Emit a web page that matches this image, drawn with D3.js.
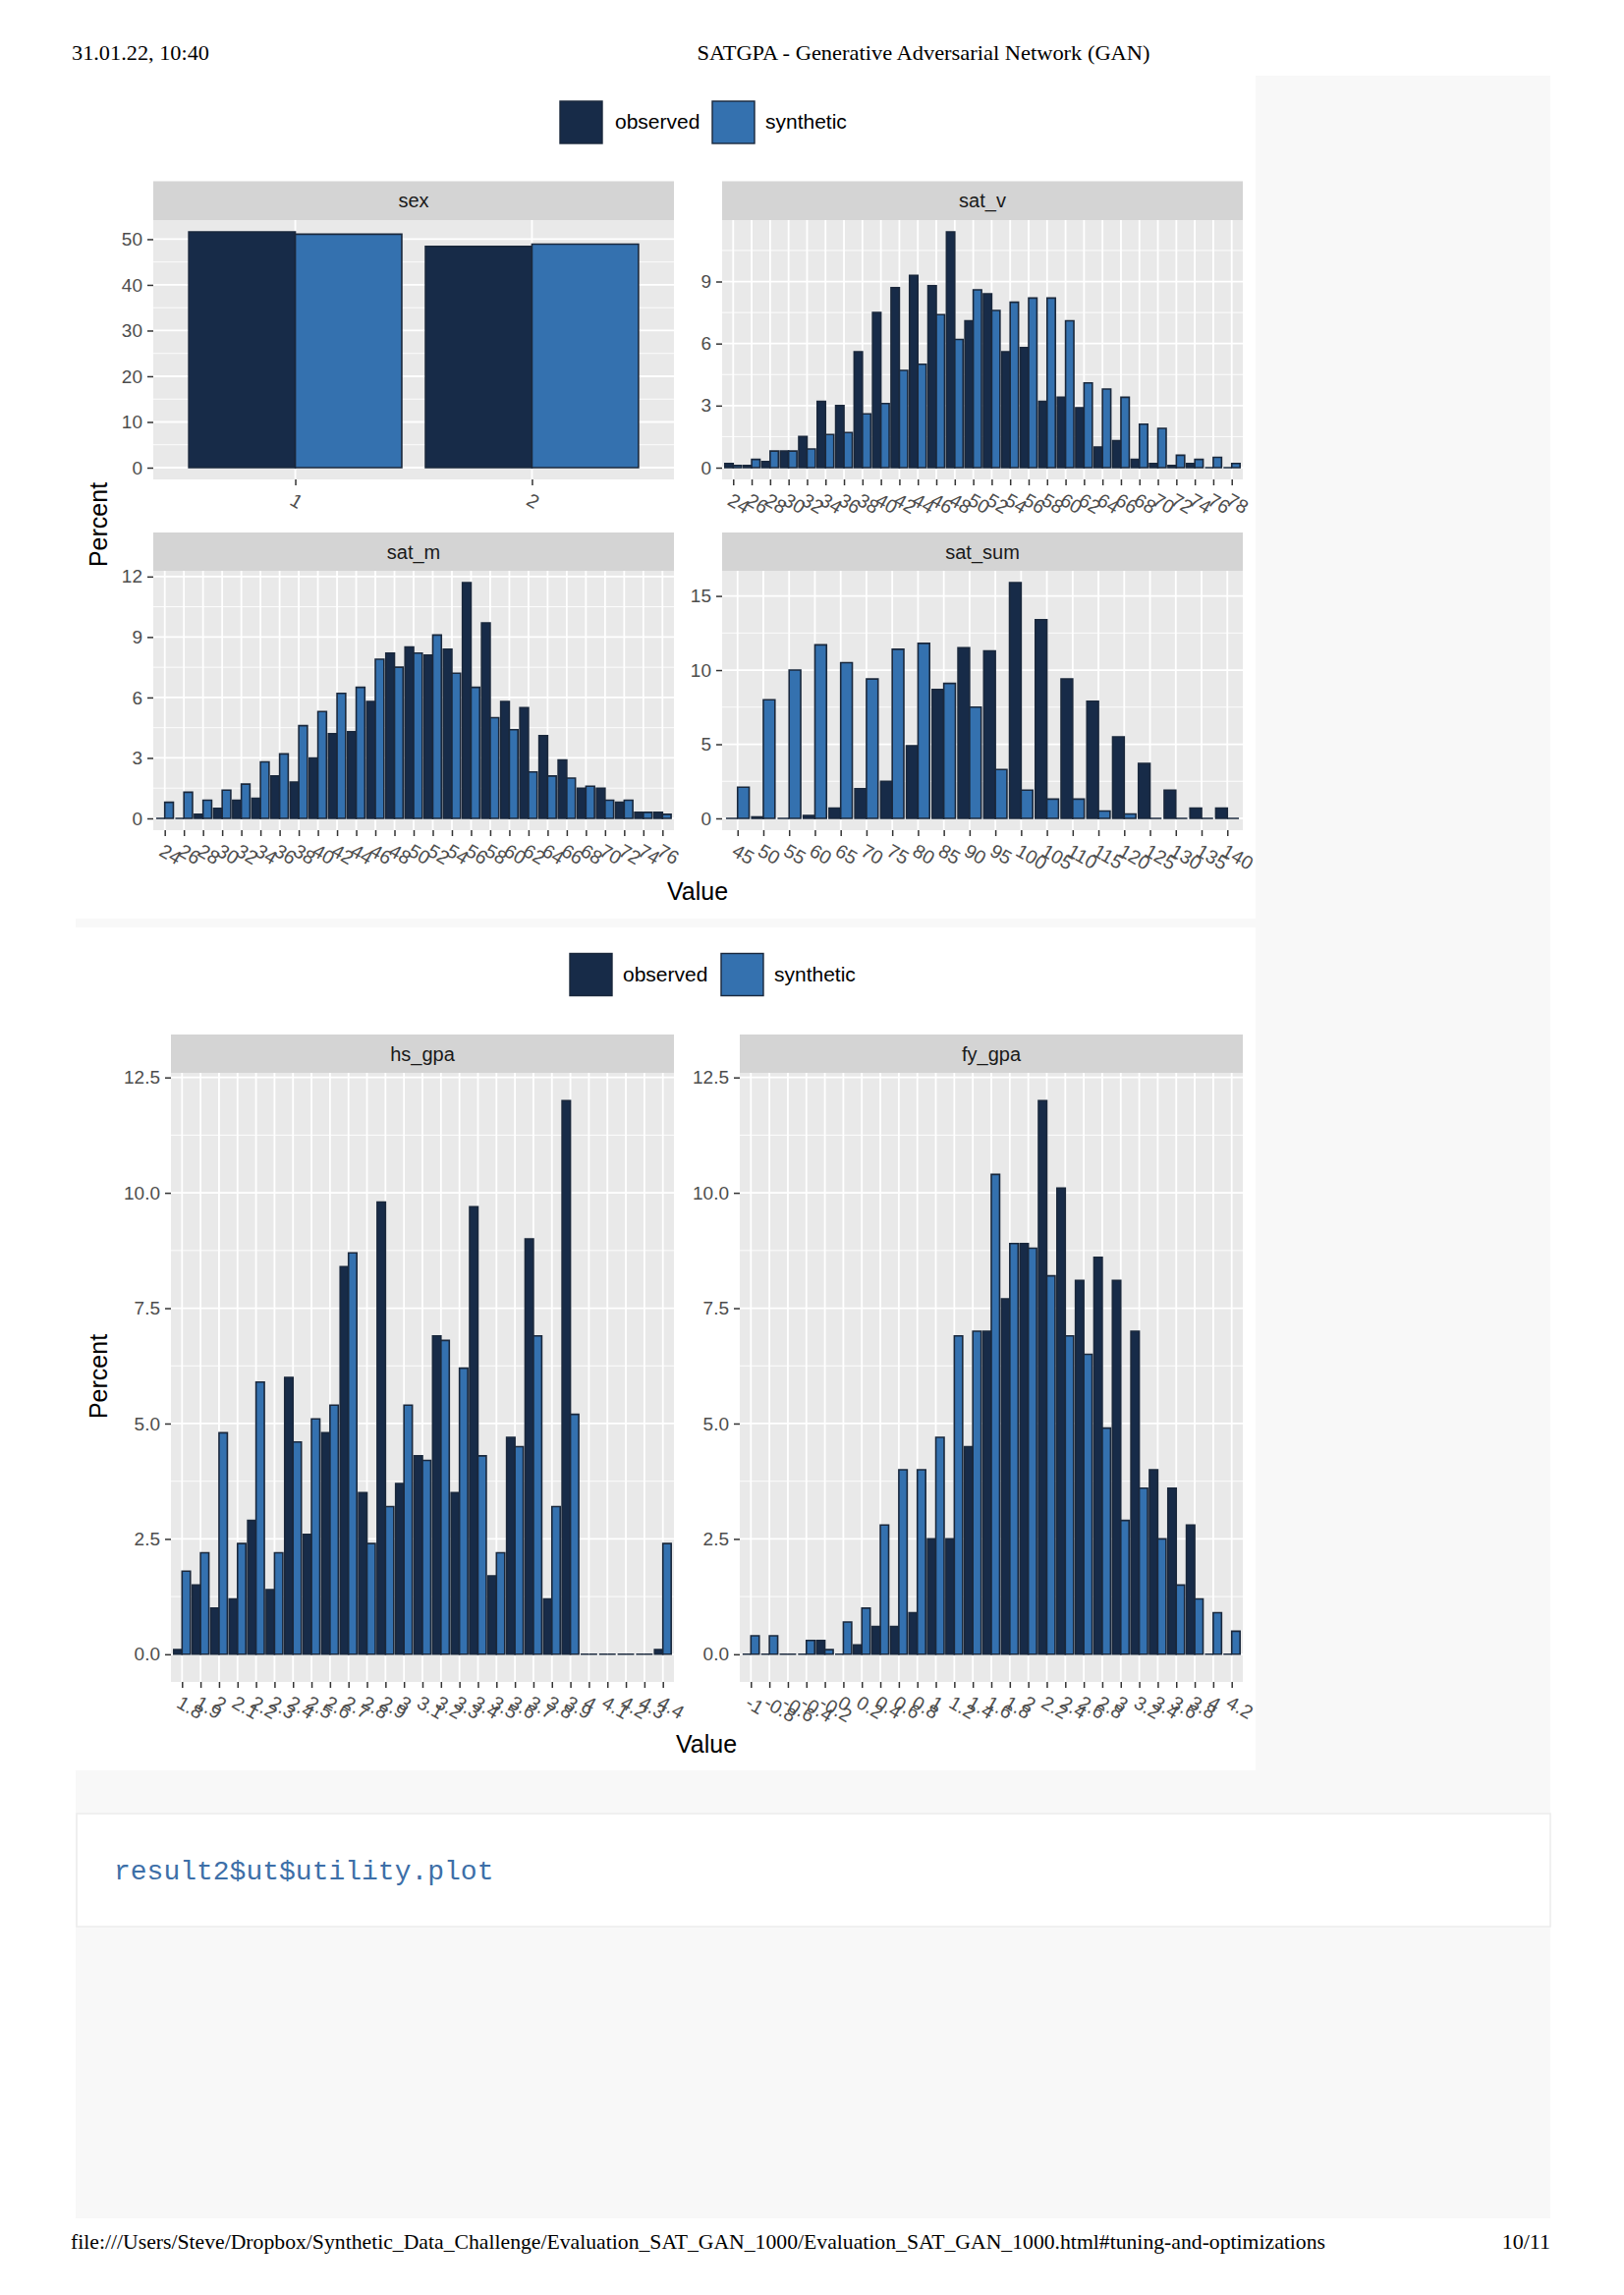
<!DOCTYPE html>
<html><head><meta charset="utf-8">
<script src="https://cdn.jsdelivr.net/npm/d3@7"></script>
<style>body{margin:0;background:#fff;} svg{display:block;}</style>
</head><body>
<svg id="c" width="1653" height="2336"></svg>
<script>
// ---------------- data ----------------
const seriesNames = ["observed", "synthetic"];

const sexCategories = ["1", "2"];
const sexObserved  = [51.6, 48.4];
const sexSynthetic = [51.1, 48.9];
const sexTicks = [0, 10, 20, 30, 40, 50];

const satVCategories = ["24","26","28","30","32","34","36","38","40","42","44","46","48","50","52","54","56","58","60","62","64","66","68","70","72","74","76","78"];
const satVObserved  = [0.2,0.1,0.3,0.8,1.5,3.2,3.0,5.6,7.5,8.7,9.3,8.8,11.4,7.1,8.4,5.6,5.8,3.2,3.4,2.9,1.0,1.3,0.4,0.2,0.1,0.2,0,0];
const satVSynthetic = [0.1,0.4,0.8,0.8,0.9,1.6,1.7,2.6,3.1,4.7,5.0,7.4,6.2,8.6,7.6,8.0,8.2,8.2,7.1,4.1,3.8,3.4,2.1,1.9,0.6,0.4,0.5,0.2];
const satVTicks = [0, 3, 6, 9];

const satMCategories = ["24","26","28","30","32","34","36","38","40","42","44","46","48","50","52","54","56","58","60","62","64","66","68","70","72","74","76"];
const satMObserved  = [0,0,0.2,0.5,0.9,1.0,2.1,1.8,3.0,4.2,4.3,5.8,8.2,8.5,8.1,8.4,11.7,9.7,5.8,5.5,4.1,2.9,1.5,1.5,0.8,0.3,0.3];
const satMSynthetic = [0.8,1.3,0.9,1.4,1.7,2.8,3.2,4.6,5.3,6.2,6.5,7.9,7.5,8.2,9.1,7.2,6.5,5.0,4.4,2.3,2.1,2.0,1.6,0.9,0.9,0.3,0.2];
const satMTicks = [0, 3, 6, 9, 12];

const satSumCategories = ["45","50","55","60","65","70","75","80","85","90","95","100","105","110","115","120","125","130","135","140"];
const satSumObserved  = [0,0.1,0,0.2,0.7,2.0,2.5,4.9,8.7,11.5,11.3,15.9,13.4,9.4,7.9,5.5,3.7,1.9,0.7,0.7];
const satSumSynthetic = [2.1,8.0,10.0,11.7,10.5,9.4,11.4,11.8,9.1,7.5,3.3,1.9,1.3,1.3,0.5,0.3,0,0,0,0];
const satSumTicks = [0, 5, 10, 15];

const hsGpaCategories = ["1.8","1.9","2","2.1","2.2","2.3","2.4","2.5","2.6","2.7","2.8","2.9","3","3.1","3.2","3.3","3.4","3.5","3.6","3.7","3.8","3.9","4","4.1","4.2","4.3","4.4"];
const hsGpaObserved  = [0.1,1.5,1.0,1.2,2.9,1.4,6.0,2.6,4.8,8.4,3.5,9.8,3.7,4.3,6.9,3.5,9.7,1.7,4.7,9.0,1.2,12.0,0,0,0,0,0.1];
const hsGpaSynthetic = [1.8,2.2,4.8,2.4,5.9,2.2,4.6,5.1,5.4,8.7,2.4,3.2,5.4,4.2,6.8,6.2,4.3,2.2,4.5,6.9,3.2,5.2,0,0,0,0,2.4];

const fyGpaCategories = ["-1","-0.8","-0.6","-0.4","-0.2","0","0.2","0.4","0.6","0.8","1","1.2","1.4","1.6","1.8","2","2.2","2.4","2.6","2.8","3","3.2","3.4","3.6","3.8","4","4.2"];
const fyGpaObserved  = [0,0,0,0,0.3,0,0.2,0.6,0.6,0.9,2.5,2.5,4.5,7.0,7.7,8.9,12.0,10.1,8.1,8.6,8.1,7.0,4.0,3.6,2.8,0,0];
const fyGpaSynthetic = [0.4,0.4,0,0.3,0.1,0.7,1.0,2.8,4.0,4.0,4.7,6.9,7.0,10.4,8.9,8.8,8.2,6.9,6.5,4.9,2.9,3.6,2.5,1.5,1.2,0.9,0.5];
const gpaTicks = [0, 2.5, 5, 7.5, 10, 12.5];

// ---------------- style ----------------
const FONT = "'Liberation Sans', Arial, Helvetica, sans-serif";
const SERIF = "'Liberation Serif', 'Times New Roman', serif";
const MONO = "'Liberation Mono', 'DejaVu Sans Mono', monospace";
const COL_OBS = "#172b48", COL_SYN = "#3471af", COL_EDGE = "#1a283c";

const svg = d3.select("#c");
svg.append("rect").attr("width", 1653).attr("height", 2336).attr("fill", "#fff");
svg.append("rect").attr("x", 77).attr("y", 77).attr("width", 1501).attr("height", 2181).attr("fill", "#f8f8f8");
svg.append("rect").attr("x", 77).attr("y", 77).attr("width", 1201).attr("height", 858).attr("fill", "#fff");
svg.append("rect").attr("x", 77).attr("y", 944).attr("width", 1201).attr("height", 858).attr("fill", "#fff");

// header / footer
svg.append("text").attr("x", 73).attr("y", 61).attr("font-family", SERIF).attr("font-size", 22)
  .attr("textLength", 140).attr("lengthAdjust", "spacingAndGlyphs").text("31.01.22, 10:40");
svg.append("text").attr("x", 940).attr("y", 61).attr("font-family", SERIF).attr("font-size", 22)
  .attr("text-anchor", "middle").attr("textLength", 461).attr("lengthAdjust", "spacingAndGlyphs")
  .text("SATGPA - Generative Adversarial Network (GAN)");
svg.append("text").attr("x", 72).attr("y", 2289).attr("font-family", SERIF).attr("font-size", 22)
  .attr("textLength", 1277).attr("lengthAdjust", "spacingAndGlyphs")
  .text("file:///Users/Steve/Dropbox/Synthetic_Data_Challenge/Evaluation_SAT_GAN_1000/Evaluation_SAT_GAN_1000.html#tuning-and-optimizations");
svg.append("text").attr("x", 1578).attr("y", 2289).attr("font-family", SERIF).attr("font-size", 22)
  .attr("text-anchor", "end").text("10/11");

// code block
svg.append("rect").attr("x", 78).attr("y", 1846).attr("width", 1500).attr("height", 115)
  .attr("fill", "#fff").attr("stroke", "#ececec").attr("stroke-width", 1.5);
svg.append("text").attr("x", 116).attr("y", 1913).attr("font-family", MONO).attr("font-size", 28)
  .attr("fill", "#3d6fa8").text("result2$ut$utility.plot");

// ---------------- panels ----------------
const fmtInt = d3.format("d"), fmt1 = d3.format(".1f");
const panels = [
  {name: "sex",     cats: sexCategories,    obs: sexObserved,    syn: sexSynthetic,    ticks: sexTicks,    fmt: fmtInt, x0: 156, x1: 686,  st: 184.5, pt: 224,  pb: 488},
  {name: "sat_v",   cats: satVCategories,   obs: satVObserved,   syn: satVSynthetic,   ticks: satVTicks,   fmt: fmtInt, x0: 735, x1: 1265, st: 184.5, pt: 224,  pb: 488},
  {name: "sat_m",   cats: satMCategories,   obs: satMObserved,   syn: satMSynthetic,   ticks: satMTicks,   fmt: fmtInt, x0: 156, x1: 686,  st: 542,   pt: 581,  pb: 845},
  {name: "sat_sum", cats: satSumCategories, obs: satSumObserved, syn: satSumSynthetic, ticks: satSumTicks, fmt: fmtInt, x0: 735, x1: 1265, st: 542,   pt: 581,  pb: 845},
  {name: "hs_gpa",  cats: hsGpaCategories,  obs: hsGpaObserved,  syn: hsGpaSynthetic,  ticks: gpaTicks,    fmt: fmt1,   x0: 174, x1: 686,  st: 1053,  pt: 1092, pb: 1712},
  {name: "fy_gpa",  cats: fyGpaCategories,  obs: fyGpaObserved,  syn: fyGpaSynthetic,  ticks: gpaTicks,    fmt: fmt1,   x0: 753, x1: 1265, st: 1053,  pt: 1092, pb: 1712}
];

function drawPanel(p) {
  const g = svg.append("g").attr("font-family", FONT);
  const x = d3.scalePoint().domain(p.cats).range([p.x0, p.x1]).padding(0.6);
  const step = x.step();
  const vmax = d3.max(p.obs.concat(p.syn));
  const y = d3.scaleLinear().domain([-0.05 * vmax, 1.05 * vmax]).range([p.pb, p.pt]);

  g.append("rect").attr("x", p.x0).attr("y", p.st).attr("width", p.x1 - p.x0).attr("height", p.pt - p.st).attr("fill", "#d4d4d4");
  g.append("text").attr("x", (p.x0 + p.x1) / 2).attr("y", (p.st + p.pt) / 2).attr("dy", "0.35em")
    .attr("text-anchor", "middle").attr("font-size", 20).attr("fill", "#1a1a1a").text(p.name);
  g.append("rect").attr("x", p.x0).attr("y", p.pt).attr("width", p.x1 - p.x0).attr("height", p.pb - p.pt).attr("fill", "#e9e9e9");

  const t = p.ticks, dt = t[1] - t[0], dom = y.domain();
  const minors = [];
  for (let i = -1; i < t.length; i++) {
    const m = t[0] + (i + 0.5) * dt;
    if (m > dom[0] && m < dom[1]) minors.push(m);
  }
  g.selectAll(null).data(minors).enter().append("line")
    .attr("x1", p.x0).attr("x2", p.x1).attr("y1", d => y(d)).attr("y2", d => y(d))
    .attr("stroke", "#fff").attr("stroke-width", 0.9);
  g.selectAll(null).data(t).enter().append("line")
    .attr("x1", p.x0).attr("x2", p.x1).attr("y1", d => y(d)).attr("y2", d => y(d))
    .attr("stroke", "#fff").attr("stroke-width", 1.8);
  g.selectAll(null).data(p.cats).enter().append("line")
    .attr("x1", d => x(d)).attr("x2", d => x(d)).attr("y1", p.pt).attr("y2", p.pb)
    .attr("stroke", "#fff").attr("stroke-width", 1.8);

  const bw = step * 0.45;
  const rows = [];
  p.cats.forEach((c, i) => {
    rows.push({c: c, v: p.obs[i], off: -bw, fill: COL_OBS});
    rows.push({c: c, v: p.syn[i], off: 0, fill: COL_SYN});
  });
  g.selectAll(null).data(rows).enter().append("path")
    .attr("d", d => {
      const xa = x(d.c) + d.off, xb = xa + bw, y0 = y(0), y1 = y(d.v);
      return `M${xa},${y0}V${y1}H${xb}V${y0}Z`;
    })
    .attr("fill", d => d.fill).attr("stroke", COL_EDGE).attr("stroke-width", 1.6);

  const ga = g.append("g").attr("transform", `translate(${p.x0},0)`)
    .call(d3.axisLeft(y).tickValues(t).tickSize(6).tickPadding(5).tickFormat(p.fmt));
  ga.attr("font-family", FONT).attr("font-size", 19);
  ga.select(".domain").remove();
  ga.selectAll("line").attr("stroke", "#333").attr("stroke-width", 1.5);
  ga.selectAll("text").attr("fill", "#4d4d4d");

  const gx = g.append("g").attr("transform", `translate(0,${p.pb})`)
    .call(d3.axisBottom(x).tickSize(6));
  gx.attr("font-family", FONT).attr("font-size", 19.5);
  gx.select(".domain").remove();
  gx.selectAll("line").attr("stroke", "#333").attr("stroke-width", 1.5);
  gx.selectAll("text").attr("fill", "#4d4d4d").attr("x", 0).attr("y", 0).attr("dy", "0.35em")
    .attr("text-anchor", "start").attr("transform", "translate(-4,19) rotate(30)");
}
panels.forEach(drawPanel);

// ---------------- legends & titles ----------------
function legend(keyX, labelX, cy) {
  const g = svg.append("g").attr("font-family", FONT);
  seriesNames.forEach((s, i) => {
    g.append("rect").attr("x", keyX[i]).attr("y", cy - 21).attr("width", 43).attr("height", 43)
      .attr("fill", i === 0 ? COL_OBS : COL_SYN).attr("stroke", COL_EDGE).attr("stroke-width", 1.4);
    g.append("text").attr("x", labelX[i]).attr("y", cy).attr("dy", "0.35em").attr("font-size", 21)
      .attr("fill", "#000").text(s);
  });
}
legend([570, 725], [626, 779], 124);
legend([580, 734], [634, 788], 991.5);

function titles(cxValue, yValue, yPercent) {
  svg.append("text").attr("x", cxValue).attr("y", yValue).attr("dy", "0.35em").attr("text-anchor", "middle")
    .attr("font-family", FONT).attr("font-size", 25).text("Value");
  svg.append("text").attr("transform", `translate(100,${yPercent}) rotate(-90)`).attr("dy", "0.35em")
    .attr("text-anchor", "middle").attr("font-family", FONT).attr("font-size", 25).text("Percent");
}
titles(710, 907, 534);
titles(719, 1775, 1401);
</script>
</body></html>
